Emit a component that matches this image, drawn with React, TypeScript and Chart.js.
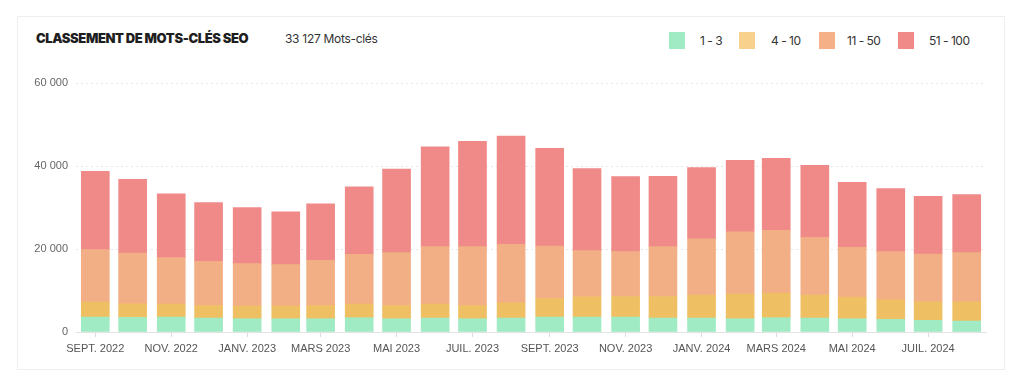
import React, { useEffect, useRef } from "react";
import { Chart, registerables } from "chart.js";

Chart.register(...registerables);

const months = [
  "2022-09", "2022-10", "2022-11", "2022-12", "2023-01", "2023-02", "2023-03", "2023-04",
  "2023-05", "2023-06", "2023-07", "2023-08", "2023-09", "2023-10", "2023-11", "2023-12",
  "2024-01", "2024-02", "2024-03", "2024-04", "2024-05", "2024-06", "2024-07", "2024-08",
];

const rank1to3 = [3600, 3520, 3600, 3360, 3200, 3200, 3200, 3440, 3200, 3360, 3200, 3360, 3600, 3600, 3600, 3360, 3360, 3200, 3440, 3360, 3200, 3040, 2800, 2640];
const rank4to10 = [3600, 3280, 3120, 3040, 3040, 3040, 3200, 3280, 3200, 3360, 3200, 3680, 4480, 4880, 4960, 5200, 5520, 5920, 5920, 5520, 5200, 4720, 4480, 4640];
const rank11to50 = [12640, 12240, 11200, 10640, 10240, 10000, 10880, 12000, 12720, 13840, 14160, 14080, 12640, 11120, 10800, 12000, 13600, 15040, 15120, 13920, 12000, 11600, 11520, 11840];
const rank51to100 = [18880, 17760, 15360, 14160, 13520, 12720, 13600, 16240, 20160, 24080, 25360, 26080, 23520, 19760, 18080, 16960, 17120, 17200, 17360, 17360, 15680, 15200, 13920, 14007];

const tickMonths = ["2022-09", "2022-11", "2023-01", "2023-03", "2023-05", "2023-07", "2023-09", "2023-11", "2024-01", "2024-03", "2024-05", "2024-07"];
const tickLabels = ["SEPT. 2022", "NOV. 2022", "JANV. 2023", "MARS 2023", "MAI 2023", "JUIL. 2023", "SEPT. 2023", "NOV. 2023", "JANV. 2024", "MARS 2024", "MAI 2024", "JUIL. 2024"];

const yTicks = [0, 20000, 40000, 60000];

const seriesNames = ["1 - 3", "4 - 10", "11 - 50", "51 - 100"];
const barColors = ["#A0EBC4", "#EFBF64", "#F2AF85", "#EF8A88"];
const legendColors = ["#A0EBC4", "#F8D28C", "#F5B088", "#EF8A88"];

const dayOf = (m: string) => {
  const [y, mo] = m.split("-").map(Number);
  return Math.round((Date.UTC(y, mo - 1, 1) - Date.UTC(2022, 8, 1)) / 86400000);
};

const fmt = (v: number) => {
  const s = Math.round(v).toString();
  return s.replace(/\B(?=(\d{3})+(?!\d))/g, " ");
};

export default function App() {
  const ref = useRef<HTMLCanvasElement>(null);

  useEffect(() => {
    if (!ref.current) return;
    const series = [rank1to3, rank4to10, rank11to50, rank51to100];
    const chart = new Chart(ref.current, {
      type: "bar",
      data: {
        datasets: series.map((s, i) => ({
          label: seriesNames[i],
          data: s.map((v, j) => ({ x: dayOf(months[j]), y: v })),
          backgroundColor: barColors[i],
          borderWidth: 0,
          barThickness: 28,
        })),
      },
      options: {
        animation: false,
        responsive: false,
        maintainAspectRatio: false,
        layout: { padding: { left: 20, right: 30, top: 75, bottom: 22 } },
        plugins: {
          legend: { display: false },
          tooltip: { enabled: false },
        },
        scales: {
          x: {
            type: "linear",
            stacked: true,
            offset: false,
            min: -15.5,
            max: 715.5,
            afterBuildTicks: (scale: any) => {
              scale.ticks = tickMonths.map((m) => ({ value: dayOf(m) }));
            },
            afterFit: (scale: any) => {
              scale.height = 30;
            },
            ticks: {
              autoSkip: false,
              maxRotation: 0,
              padding: 5,
              color: "#555",
              font: { family: "'Liberation Sans', Arial, sans-serif", size: 11 },
              callback: (value: any) => {
                const idx = tickMonths.findIndex((m) => dayOf(m) === value);
                return idx >= 0 ? tickLabels[idx] : "";
              },
            },
            grid: {
              offset: false,
              drawOnChartArea: false,
              drawTicks: true,
              tickLength: 5,
              color: "#dddddd",
            },
            border: { color: "#e3e3e3", width: 1 },
          },
          y: {
            stacked: true,
            min: 0,
            max: 60000,
            afterBuildTicks: (scale: any) => {
              scale.ticks = yTicks.map((v) => ({ value: v }));
            },
            afterFit: (scale: any) => {
              scale.width = 48;
            },
            ticks: {
              padding: 8,
              color: "#666",
              font: { family: "'Liberation Sans', Arial, sans-serif", size: 11 },
              callback: (value: any) => fmt(Number(value)),
            },
            grid: {
              drawTicks: false,
              color: (ctx: any) => (ctx.tick && ctx.tick.value === 0 ? "rgba(0,0,0,0)" : "#e6e6e6"),
            },
            border: { display: false, dash: [2, 3] },
          },
        },
      },
    } as any);
    return () => chart.destroy();
  }, []);

  const legendPos = [
    { box: 661, text: 692 },
    { box: 731, text: 763 },
    { box: 811, text: 839 },
    { box: 890, text: 921 },
  ];

  return (
    <div style={{ position: "relative", width: 1008, height: 376, fontFamily: "Inter, 'Noto Sans', sans-serif" }}>
      <div
        style={{
          position: "absolute",
          left: 9,
          top: 8,
          width: 988,
          height: 354,
          border: "1px solid #eeeeee",
          boxSizing: "border-box",
        }}
      />
      <div
        style={{
          position: "absolute",
          left: 28,
          top: 22,
          fontSize: 13,
          lineHeight: "16px",
          fontWeight: 900,
          letterSpacing: "-0.4px",
          color: "#1f1f1f",
          whiteSpace: "nowrap",
        }}
      >
        CLASSEMENT DE MOTS-CLÉS SEO
      </div>
      <div
        style={{
          position: "absolute",
          left: 277,
          top: 23,
          fontSize: 12,
          lineHeight: "16px",
          fontWeight: 400,
          letterSpacing: "-0.3px",
          color: "#333",
          whiteSpace: "nowrap",
        }}
      >
        33 127 Mots-clés
      </div>
      {seriesNames.map((n, i) => (
        <React.Fragment key={n}>
          <div
            style={{
              position: "absolute",
              left: legendPos[i].box,
              top: 24,
              width: 16,
              height: 17,
              background: legendColors[i],
            }}
          />
          <div
            style={{
              position: "absolute",
              left: legendPos[i].text,
              top: 24,
              fontSize: 12,
              lineHeight: "17px",
              letterSpacing: "-0.5px",
              color: "#333",
              whiteSpace: "nowrap",
            }}
          >
            {n}
          </div>
        </React.Fragment>
      ))}
      <canvas
        ref={ref}
        width={1008}
        height={376}
        style={{ position: "absolute", left: 0, top: 0, width: 1008, height: 376 }}
      />
    </div>
  );
}
